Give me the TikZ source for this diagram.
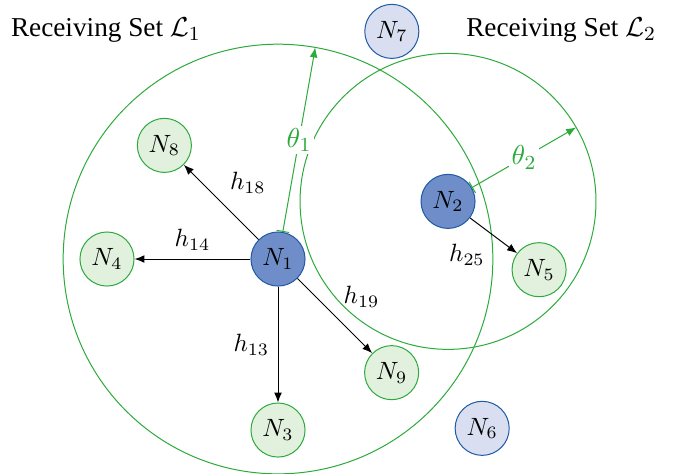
\documentclass[tikz,border=0pt]{standalone}
\usepackage{amsmath,amssymb}
\usepackage{fontspec}
\setmainfont{Liberation Serif}
\usetikzlibrary{positioning,arrows.meta,calc}
\definecolor{setgreen}{RGB}{44,170,60}
\definecolor{rxfill}{RGB}{226,240,222}
\definecolor{txfill}{RGB}{111,142,201}
\definecolor{idlefill}{RGB}{217,223,240}
\definecolor{nodeblue}{RGB}{30,90,165}
\tikzset{rxnode/.style={circle, draw=setgreen, fill=rxfill, minimum size=0.76cm, inner sep=0pt}}
\tikzset{txnode/.style={circle, draw=nodeblue, fill=txfill, minimum size=0.76cm, inner sep=0pt}}
\tikzset{idlenode/.style={circle, draw=nodeblue, fill=idlefill, minimum size=0.76cm, inner sep=0pt}}
\tikzset{settext/.style={font=\fontsize{10.9}{13}\selectfont}}
\tikzset{linkarrow/.style={-{Latex[length=1.4mm, width=1.1mm]}}}
\tikzset{rangearrow/.style={setgreen, {Bar[width=1.8mm]}-{Latex[length=1.4mm, width=1.1mm]}}}

\begin{document}
\begin{tikzpicture}
\useasboundingbox (-3.908,-3.008) rectangle (5.665,3.641);
\node[txnode] (n1) {$N_1$};
\node[rxnode, left=1.63cm of n1] (n4) {$N_4$};
\node[rxnode, below=1.63cm of n1] (n3) {$N_3$};
\node[rxnode, above left=1.05cm and 1.05cm of n1] (n8) {$N_8$};
\node[rxnode, below right=1.05cm and 1.05cm of n1] (n9) {$N_9$};
\node[txnode] (n2) at (2.39,0.81) {$N_2$};
\node[rxnode] (n5) at (3.67,-0.15) {$N_5$};
\node[idlenode] (n6) at (2.87,-2.38) {$N_6$};
\node[idlenode] (n7) at (1.60,3.20) {$N_7$};
\node[settext] (set1) at (-2.42,3.22) {Receiving Set $\mathcal{L}_1$};
\node[settext] (set2) at (3.98,3.22) {Receiving Set $\mathcal{L}_2$};
% receiving ranges
\draw[setgreen] (n1) circle (3.02cm);
\draw[setgreen] (n2) circle (2.08cm);
\coordinate (r1) at ($(n1)+(80:3.02cm)$);
\draw[rangearrow] (n1.80) -- node[fill=white, inner sep=1pt, settext] {$\theta_1$} (r1);
\coordinate (r2) at ($(n2)+(30:2.08cm)$);
\draw[rangearrow] (n2.30) -- node[fill=white, inner sep=1pt, settext] {$\theta_2$} (r2);
% links
\draw[linkarrow] (n1) -- node[above right] {$h_{18}$} (n8);
\draw[linkarrow] (n1) -- node[above] {$h_{14}$} (n4);
\draw[linkarrow] (n1) -- node[left] {$h_{13}$} (n3);
\draw[linkarrow] (n1) -- node[above right] {$h_{19}$} (n9);
\draw[linkarrow] (n2) -- node[below left] {$h_{25}$} (n5);
\end{tikzpicture}
\end{document}
